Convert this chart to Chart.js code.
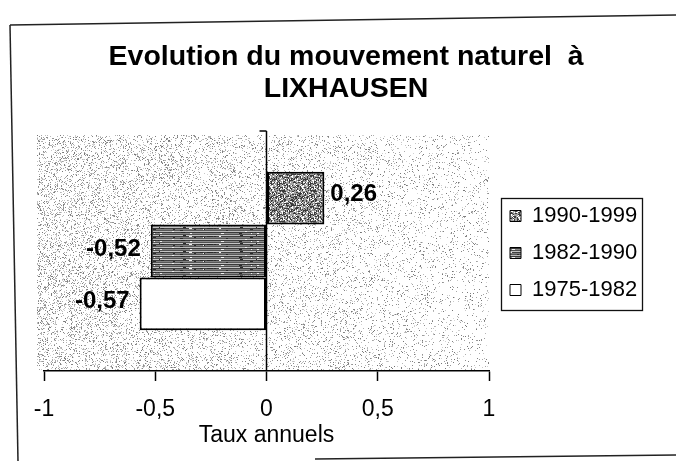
<!DOCTYPE html>
<html>
<head>
<meta charset="utf-8">
<script src="https://cdn.jsdelivr.net/npm/chart.js@4/dist/chart.umd.min.js"></script>
<style>
html,body{margin:0;padding:0;background:#fff;}
#wrap{width:676px;height:461px;position:relative;}
</style>
</head>
<body>
<div id="wrap"><canvas id="c" width="676" height="461"></canvas></div>
<script>
// ---- data ----
const categories = [''];
const seriesLabels = ['1990-1999', '1982-1990', '1975-1982'];
const seriesValues = [0.26, -0.52, -0.57];
const tickLabels = ['-1', '-0,5', '0', '0,5', '1'];
const titleLines = ['Evolution du mouvement naturel  à', 'LIXHAUSEN'];
const axisTitle = 'Taux annuels';

const FAMILY = '"Liberation Sans", Arial, Helvetica, sans-serif';
Chart.defaults.font.family = FAMILY;

const canvas = document.getElementById('c');
const ctx = canvas.getContext('2d');

// deterministic pseudo-random generator, used for textures only
function lcg(seed){ let s = seed >>> 0; return () => { s = (s * 1664525 + 1013904223) >>> 0; return s / 4294967296; }; }

function stipple(size, base, dark, dDark, light, dLight, seed){
  const c = document.createElement('canvas'); c.width = c.height = size;
  const g = c.getContext('2d');
  g.fillStyle = base; g.fillRect(0, 0, size, size);
  const r = lcg(seed);
  for (let y = 0; y < size; y++) for (let x = 0; x < size; x++) {
    const v = r();
    if (v < dDark) { g.fillStyle = dark; g.fillRect(x, y, 1, 1); }
    else if (v < dDark + dLight) { g.fillStyle = light; g.fillRect(x, y, 1, 1); }
  }
  return ctx.createPattern(c, 'repeat');
}
function hatch(){
  const W = 97, H = 8;
  const c = document.createElement('canvas'); c.width = W; c.height = H;
  const g = c.getContext('2d');
  const rows = ['#3a3a3a', '#8a8a8a', '#505050', '#c4c4c4', '#404040', '#808080', '#585858', '#bcbcbc'];
  rows.forEach((col, i) => { g.fillStyle = col; g.fillRect(0, i, W, 1); });
  const r = lcg(77);
  for (let i = 0; i < 30; i++) {
    g.fillStyle = r() < 0.5 ? '#f0f0f0' : '#2a2a2a';
    g.fillRect(Math.floor(r() * W), Math.floor(r() * H), 1 + Math.floor(r() * 3), 1);
  }
  return ctx.createPattern(c, 'repeat');
}
const fills = [
  stipple(31, '#a0a0a0', '#3a3a3a', 0.34, '#ffffff', 0.15, 3),
  hatch(),
  '#ffffff'
];

const valueLabels = seriesValues.map(v => v.toFixed(2).replace('.', ','));

// target plot rectangle
const TARGET = { left: 44, right: 489, top: 131, bottom: 371 };

// ---- plugins ----
const bgPlugin = {
  id: 'bgStipple',
  beforeDraw(chart){
    const a = chart.chartArea; const c = chart.ctx;
    const x0 = Math.round(a.left - 7), x1 = Math.round(a.right), y0 = Math.round(a.top + 4), y1 = Math.round(a.bottom - 1);
    const w = x1 - x0, h = y1 - y0;
    if (w <= 0 || h <= 0) return;
    const img = c.createImageData(w, h);
    const r = lcg(12345);
    for (let y = 0; y < h; y++) {
      for (let x = 0; x < w; x++) {
        const t = x / w;
        const d = 0.23 - 0.16 * t;
        let g = 255;
        if (r() < d) g = 115 + Math.floor(r() * 100);
        const k = (y * w + x) * 4;
        img.data[k] = g; img.data[k + 1] = g; img.data[k + 2] = g; img.data[k + 3] = 255;
      }
    }
    c.putImageData(img, x0, y0);
  }
};

const axisPlugin = {
  id: 'zeroAxis',
  afterLayout(chart){
    const L = chart.legend;
    if (L) {
      const dx = chart.chartArea.right + 6 - L.left;
      L.left += dx; L.right += dx; L.top += 2; L.bottom += 2;
    }
    const T = chart.titleBlock;
    if (T) { T.left += 3.5; T.right += 3.5; }
  },
  afterDatasetsDraw(chart){
    const c = chart.ctx, a = chart.chartArea, xs = chart.scales.x;
    const x0 = Math.round(xs.getPixelForValue(0)) - 0.5;
    c.save();
    c.strokeStyle = '#000'; c.lineWidth = 1.5;
    c.beginPath(); c.moveTo(x0, a.top); c.lineTo(x0, a.bottom); c.stroke();
    c.beginPath(); c.moveTo(x0 - 7, a.top); c.lineTo(x0, a.top); c.stroke();
    // value labels
    c.font = 'bold 24px ' + FAMILY;
    c.fillStyle = '#000'; c.textBaseline = 'middle';
    chart.data.datasets.forEach((ds, i) => {
      const bar = chart.getDatasetMeta(i).data[0];
      const v = ds.data[0];
      if (v >= 0) { c.textAlign = 'left'; c.fillText(valueLabels[i], bar.x + 6, bar.y - 4); }
      else { c.textAlign = 'right'; c.fillText(valueLabels[i], bar.x - 10, bar.y - 2); }
    });
    c.restore();
  },
  afterDraw(chart){
    const c = chart.ctx;
    c.save();
    // legend frame
    const hb = chart.legend && chart.legend.legendHitBoxes;
    if (hb && hb.length) {
      const left = hb[0].left - 9;
      const right = Math.max(...hb.map(h => h.left + h.width)) + 5;
      const top = hb[0].top - 7;
      const bottom = hb[hb.length - 1].top + hb[hb.length - 1].height + 9;
      c.strokeStyle = '#111'; c.lineWidth = 1.3;
      c.strokeRect(Math.round(left) + 0.5, Math.round(top) + 0.5, Math.round(right - left), Math.round(bottom - top));
    }
    // scanned page frame
    c.strokeStyle = '#222'; c.lineWidth = 1.5;
    c.beginPath(); c.moveTo(10, 25); c.lineTo(676, 15); c.stroke();
    c.beginPath(); c.moveTo(10, 25); c.lineTo(18, 461); c.stroke();
    c.beginPath(); c.moveTo(315, 459); c.lineTo(676, 455); c.stroke();
    c.restore();
  }
};

const chart = new Chart(ctx, {
  type: 'bar',
  data: {
    labels: categories,
    datasets: seriesLabels.map((lab, i) => ({
      label: lab,
      data: [seriesValues[i]],
      backgroundColor: fills[i],
      borderColor: '#000',
      borderWidth: 2,
      borderSkipped: false,
      categoryPercentage: 0.66,
      barPercentage: 1
    }))
  },
  options: {
    indexAxis: 'y',
    responsive: false,
    animation: false,
    devicePixelRatio: 1,
    layout: { padding: { left: TARGET.left, right: 40, top: 0, bottom: 13.5 } },
    plugins: {
      title: {
        display: true, text: titleLines, color: '#000',
        font: { size: 28.5, weight: 'bold', lineHeight: 1.123 },
        padding: { top: 41, bottom: 26 }
      },
      legend: {
        position: 'right', align: 'center', fullSize: false,
        labels: {
          boxWidth: 11, boxHeight: 11, padding: 15, color: '#000',
          font: { size: 22 },
          generateLabels(chart){
            const items = Chart.defaults.plugins.legend.labels.generateLabels(chart);
            items.forEach(it => { it.lineWidth = 1; it.strokeStyle = '#000'; });
            return items;
          }
        }
      },
      tooltip: { enabled: false }
    },
    scales: {
      x: {
        min: -1, max: 1,
        ticks: {
          stepSize: 0.5, color: '#000', font: { size: 23 }, padding: 15,
          maxRotation: 0, autoSkip: false,
          callback: (v, i) => tickLabels[i]
        },
        grid: { display: true, drawOnChartArea: false, drawTicks: true, tickLength: 10, tickColor: '#000', tickWidth: 1.5 },
        border: { display: true, color: '#000', width: 1.5 },
        title: { display: true, text: axisTitle, color: '#000', font: { size: 23, lineHeight: 1 }, padding: { top: 2, bottom: 0 } }
      },
      y: { display: false }
    }
  },
  plugins: [bgPlugin, axisPlugin]
});

// fit the plot rectangle to the reference one
let padR = 40, xTitleTop = 2, titleBottom = 26;
for (let k = 0; k < 4; k++) {
  const a = chart.chartArea;
  const dR = a.right - TARGET.right, dB = a.bottom - TARGET.bottom, dT = a.top - TARGET.top;
  if (Math.abs(dR) < 0.3 && Math.abs(dB) < 0.3 && Math.abs(dT) < 0.3) break;
  padR += dR; xTitleTop += dB; titleBottom -= dT;
  chart.options.layout.padding = { left: TARGET.left, right: padR, top: 0, bottom: 13.5 };
  chart.options.scales.x.title.padding = { top: xTitleTop, bottom: 0 };
  chart.options.plugins.title.padding = { top: 41, bottom: titleBottom };
  chart.update();
}
</script>
</body>
</html>
